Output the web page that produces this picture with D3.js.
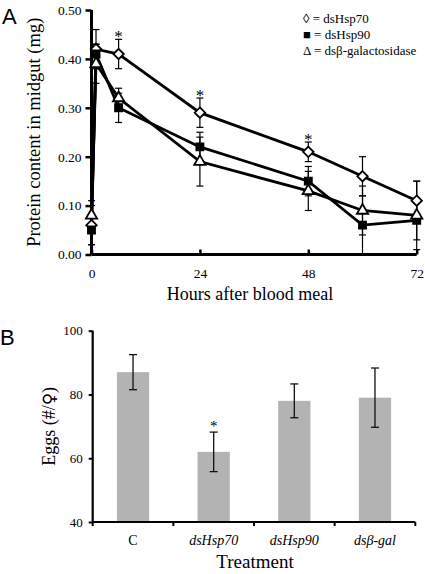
<!DOCTYPE html>
<html><head><meta charset="utf-8">
<script src="https://cdn.jsdelivr.net/npm/d3@7"></script>
<style>body{margin:0;background:#fff}svg{display:block}text{fill:#000}</style>
</head><body>
<script>
// Panel A data
const hours = [0, 1, 6, 24, 48, 60, 72];
const hsp70 = [0.06, 0.42, 0.41, 0.29, 0.21, 0.16, 0.11];
const hsp70Err = [0.04, 0.04, 0.03, 0.03, 0.02, 0.04, 0.04];
const hsp90 = [0.05, 0.41, 0.30, 0.22, 0.15, 0.06, 0.07];
const hsp90Err = [0.03, 0.02, 0.03, 0.03, 0.03, 0.06, 0.04];
const bgal = [0.08, 0.39, 0.32, 0.19, 0.13, 0.09, 0.08];
const bgalErr = [0.03, 0.04, 0.02, 0.05, 0.04, 0.05, 0.07];
const yTicksA = [0, 0.1, 0.2, 0.3, 0.4, 0.5];
const xTicksA = [0, 24, 48, 72];
const starHoursA = [6, 24, 48];
const legendLabels = ["\u25CA = dsHsp70", "\u25A0 = dsHsp90", "\u0394 = ds\u03B2-galactosidase"];
// Panel B data
const treatments = ["C", "dsHsp70", "dsHsp90", "ds\u03B2-gal"];
const eggs = [87, 62, 78, 79];
const eggsErr = [5.5, 6.2, 5.3, 9.3];
const starB = [false, true, false, false];
const yTicksB = [40, 60, 80, 100];

const W = 425, H = 574;
const svg = d3.select("body").append("svg").attr("width", W).attr("height", H);
const serif = "'Liberation Serif','Times New Roman',serif";
const sans = "'Liberation Sans',Arial,sans-serif";

// ---------- Panel A ----------
const xA = d3.scaleLinear().domain([0, 72]).range([91.5, 416.7]);
const yA = d3.scaleLinear().domain([0, 0.5]).range([254.5, 10]);
const gA = svg.append("g");

gA.append("text").attr("x", 2).attr("y", 24).attr("font-family", sans).attr("font-size", 22).text("A");

const axYA = gA.append("g").attr("transform", `translate(${xA(0)},0)`)
  .call(d3.axisLeft(yA).tickValues(yTicksA).tickFormat(d3.format(".2f")).tickSize(-5).tickPadding(10));
const axXA = gA.append("g").attr("transform", `translate(0,${yA(0)})`)
  .call(d3.axisBottom(xA).tickValues(xTicksA).tickSize(-5).tickPadding(14));
[axYA, axXA].forEach(a => {
  a.select(".domain").attr("stroke", "#000").attr("stroke-width", 3);
  a.selectAll(".tick line").attr("stroke", "#000").attr("stroke-width", 2.5);
  a.selectAll("text").attr("font-family", serif).attr("font-size", 13.5).attr("fill", "#000");
});
axYA.select(".domain").attr("d", `M0,${yA(0.5)}V${yA(0)}`);
axXA.select(".domain").attr("d", `M${xA(0)},0H${xA(72)}`);
axXA.selectAll(".tick line").attr("y1", 0).attr("y2", -5);
axYA.selectAll(".tick line").attr("x1", 0).attr("x2", -6);

gA.append("text").attr("transform", `translate(40,${(yA(0)+yA(0.5))/2}) rotate(-90)`)
  .attr("text-anchor", "middle").attr("font-family", serif).attr("font-size", 18.5).attr("fill", "#000").text("Protein content in midgut (mg)");
gA.append("text").attr("x", 250).attr("y", 300).attr("text-anchor", "middle")
  .attr("font-family", serif).attr("font-size", 18).attr("fill", "#000").text("Hours after blood meal");

const series = [
  {vals: hsp70, err: hsp70Err, shape: "diamond"},
  {vals: hsp90, err: hsp90Err, shape: "square"},
  {vals: bgal, err: bgalErr, shape: "triangle"}
];
const line = d3.line().x((d, i) => xA(hours[i])).y(d => yA(d));
series.forEach(s => {
  gA.append("path").attr("d", line(s.vals)).attr("fill", "none").attr("stroke", "#000").attr("stroke-width", 2.8);
});
series.forEach(s => {
  s.vals.forEach((v, i) => {
    const x = xA(hours[i]);
    const lo = Math.max(0, v - s.err[i]), hi = v + s.err[i];
    gA.append("line").attr("x1", x).attr("x2", x).attr("y1", yA(lo)).attr("y2", yA(hi)).attr("stroke", "#000").attr("stroke-width", 1.2);
    [lo, hi].forEach(e => gA.append("line").attr("x1", x - 3.5).attr("x2", x + 3.5).attr("y1", yA(e)).attr("y2", yA(e)).attr("stroke", "#000").attr("stroke-width", 1.2));
  });
});
const sym = {
  diamond: d3.symbol().type(d3.symbolDiamond2).size(70),
  square: d3.symbol().type(d3.symbolSquare).size(50),
  triangle: d3.symbol().type(d3.symbolTriangle).size(55)
};
series.forEach(s => {
  s.vals.forEach((v, i) => {
    gA.append("path").attr("d", sym[s.shape]())
      .attr("transform", `translate(${xA(hours[i])},${yA(v)})`)
      .attr("fill", s.shape === "square" ? "#000" : "#fff")
      .attr("stroke", "#000").attr("stroke-width", 1.8);
  });
});
starHoursA.forEach(h => {
  const i = hours.indexOf(h);
  gA.append("text").attr("x", xA(h)).attr("y", yA(hsp70[i] + hsp70Err[i]) + 3).attr("text-anchor", "middle")
    .attr("font-family", serif).attr("font-size", 17).attr("fill", "#000").text("*");
});
legendLabels.forEach((t, i) => {
  gA.append("text").attr("x", 303).attr("y", 23 + i * 16).attr("font-family", serif).attr("font-size", 13).attr("fill", "#000").text(t);
});

// ---------- Panel B ----------
const xB = d3.scaleBand().domain(treatments).range([92.7, 415.3]).paddingInner(0.6).paddingOuter(0.3);
const yB = d3.scaleLinear().domain([40, 100]).range([522, 330.7]);
const gB = svg.append("g");
gB.append("text").attr("x", 0).attr("y", 345).attr("font-family", sans).attr("font-size", 22).attr("fill", "#000").text("B");

gB.selectAll("rect.bar").data(treatments).enter().append("rect")
  .attr("x", d => xB(d)).attr("width", xB.bandwidth())
  .attr("y", (d, i) => yB(eggs[i])).attr("height", (d, i) => yB(40) - yB(eggs[i]))
  .attr("fill", "#b3b3b3");
treatments.forEach((t, i) => {
  const x = xB(t) + xB.bandwidth() / 2;
  const lo = eggs[i] - eggsErr[i], hi = eggs[i] + eggsErr[i];
  gB.append("line").attr("x1", x).attr("x2", x).attr("y1", yB(lo)).attr("y2", yB(hi)).attr("stroke", "#111").attr("stroke-width", 1.3);
  [lo, hi].forEach(e => gB.append("line").attr("x1", x - 4).attr("x2", x + 4).attr("y1", yB(e)).attr("y2", yB(e)).attr("stroke", "#111").attr("stroke-width", 1.3));
  if (starB[i]) gB.append("text").attr("x", x).attr("y", yB(hi) - 1).attr("text-anchor", "middle")
    .attr("font-family", serif).attr("font-size", 15).attr("fill", "#000").text("*");
});

const axYB = gB.append("g").attr("transform", `translate(92.7,0)`)
  .call(d3.axisLeft(yB).tickValues(yTicksB).tickSize(4).tickPadding(6));
axYB.select(".domain").attr("d", `M0,${yB(100)}V${yB(40)}`).attr("stroke", "#000").attr("stroke-width", 2.2);
axYB.selectAll(".tick line").attr("stroke", "#000").attr("stroke-width", 2);
axYB.selectAll("text").attr("font-family", serif).attr("font-size", 13).attr("fill", "#000");

const boundaries = d3.range(treatments.length + 1).map(k => 92.7 + k * (415.3 - 92.7) / treatments.length);
gB.append("line").attr("x1", 92.7).attr("x2", 415.3).attr("y1", yB(40)).attr("y2", yB(40)).attr("stroke", "#000").attr("stroke-width", 2.2);
boundaries.forEach(b => gB.append("line").attr("x1", b).attr("x2", b).attr("y1", yB(40)).attr("y2", yB(40) + 4).attr("stroke", "#000").attr("stroke-width", 2));
treatments.forEach((t, i) => {
  gB.append("text").attr("x", xB(t) + xB.bandwidth() / 2).attr("y", 545).attr("text-anchor", "middle")
    .attr("font-family", serif).attr("font-size", 14).attr("font-style", i === 0 ? "normal" : "italic").attr("fill", "#000").text(t);
});
gB.append("text").attr("transform", `translate(55,${(yB(40) + yB(100)) / 2}) rotate(-90)`)
  .attr("text-anchor", "middle").attr("font-family", serif).attr("font-size", 18).attr("fill", "#000")
  .html("Eggs (#/<tspan font-family=\"'DejaVu Sans',sans-serif\" font-size=\"17\">\u2640</tspan>)");
gB.append("text").attr("x", 255).attr("y", 568).attr("text-anchor", "middle")
  .attr("font-family", serif).attr("font-size", 19).attr("fill", "#000").text("Treatment");
</script>
</body></html>
